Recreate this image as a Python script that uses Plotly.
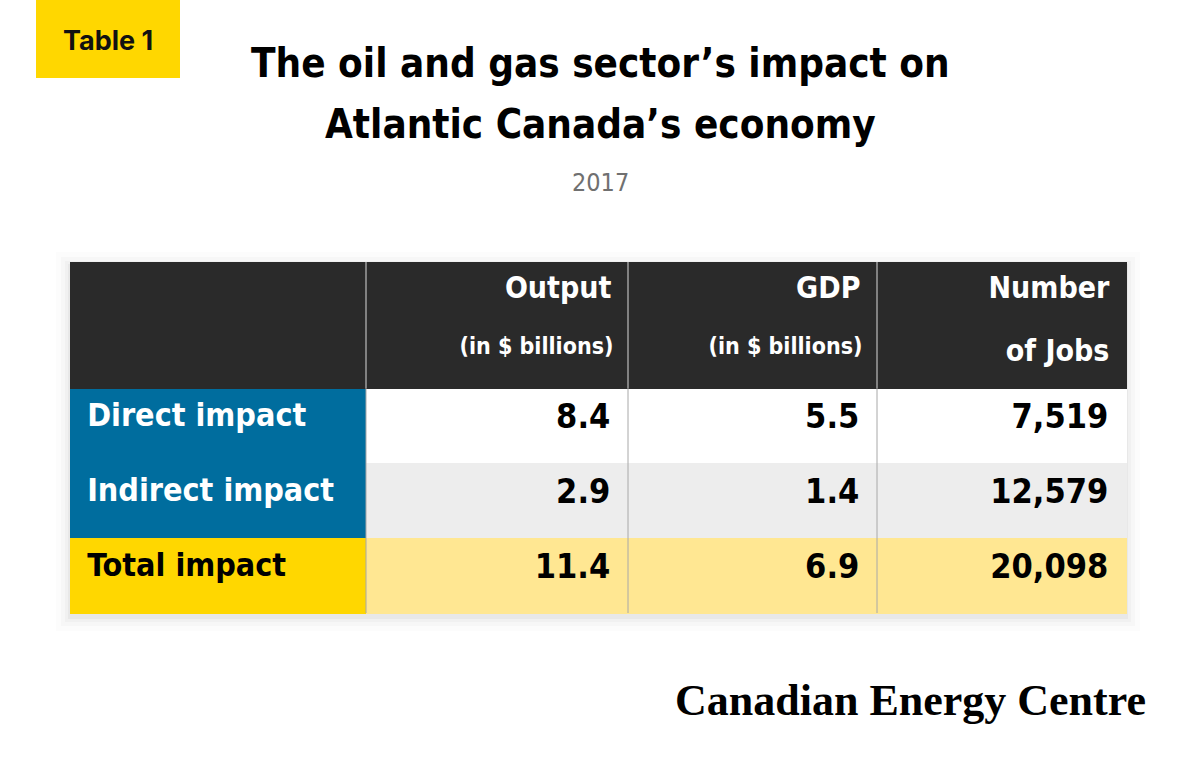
import plotly.graph_objects as go

# table content
row_labels = ["Direct impact", "Indirect impact", "Total impact"]
output_bn = [8.4, 2.9, 11.4]
gdp_bn = [5.5, 1.4, 6.9]
jobs = [7519, 12579, 20098]

col_titles = ["", "Output", "GDP", "Number"]
col_subtitles = ["", "(in $ billions)", "(in $ billions)", "of Jobs"]

COND = "DejaVu Sans Condensed, DejaVu Sans, sans-serif"
NB = "\u00a0"

DARK = "#2a2a2a"
BLUE = "#006d9e"
YELLOW = "#ffd700"
PALE_YELLOW = "#ffe792"
LIGHT_GRAY = "#ededed"

# layout of the table in pixels (page is 1200 x 775)
W, H = 1200, 775
TX0, TY0 = 70, 262
col_px = [296, 262, 249, 249]
HEAD_H, ROW_H = 63, 75


def nb(s):
    # non-breaking spaces so the table does not re-wrap the text
    return s.replace(" ", NB)


def sub_fmt(s):
    if not s:
        return ""
    if s.startswith("("):
        # the trailing <br> stops the table from splitting the span tag
        return f"<span style='font-size:23px'><b>{nb(s)}</b>{NB}</span><br>"
    return f"<b>{nb(s)}</b>{NB}"


header_vals = [[f"<b>{t}</b>{NB}" if t else "", sub_fmt(s)]
               for t, s in zip(col_titles, col_subtitles)]

label_fill = [BLUE, BLUE, YELLOW]
row_fill = ["white", LIGHT_GRAY, PALE_YELLOW]
label_font = ["white", "white", "black"]

cells_values = [
    [f"{NB}<b>{nb(r)}</b>" for r in row_labels],
    [f"<b>{v:.1f}</b>{NB}" for v in output_bn],
    [f"<b>{v:.1f}</b>{NB}" for v in gdp_bn],
    [f"<b>{v:,}</b>{NB}" for v in jobs],
]
fills = [label_fill, row_fill, row_fill, row_fill]

table_h = 2 * HEAD_H + len(row_labels) * ROW_H
fig = go.Figure(
    go.Table(
        domain=dict(x=[TX0 / W, (TX0 + sum(col_px)) / W],
                    y=[1 - (TY0 + table_h + 2) / H, 1 - TY0 / H]),
        columnwidth=col_px,
        header=dict(
            values=header_vals,
            fill_color=DARK,
            line=dict(color=DARK, width=1),
            align="right",
            font=dict(family=COND, size=30, color="white"),
            height=HEAD_H,
        ),
        cells=dict(
            values=cells_values,
            fill_color=fills,
            line=dict(color=fills, width=1),
            align=["left", "right", "right", "right"],
            font=dict(family=COND, size=[32, 34, 34, 34],
                      color=[label_font, "black", "black", "black"]),
            height=ROW_H,
        ),
    )
)

# column separators
edges = [TX0 + sum(col_px[:i]) for i in range(1, len(col_px))]
for xe in edges:
    fig.add_shape(type="line", xref="paper", yref="paper", layer="above",
                  x0=xe / W, x1=xe / W, y0=1 - TY0 / H, y1=1 - (TY0 + 2 * HEAD_H) / H,
                  line=dict(color="#d8d8d8", width=1))
    fig.add_shape(type="line", xref="paper", yref="paper", layer="above",
                  x0=xe / W, x1=xe / W, y0=1 - (TY0 + 2 * HEAD_H) / H, y1=1 - (TY0 + table_h) / H,
                  line=dict(color="#a8a8a8", width=1))

# soft shadow under the table
for d, op in [(2, 0.035), (5, 0.025), (9, 0.018), (14, 0.012)]:
    fig.add_shape(
        type="rect", xref="paper", yref="paper", layer="below",
        x0=(TX0 - d) / W, x1=(TX0 + sum(col_px) + d) / W,
        y0=1 - (TY0 + table_h + d + 4) / H, y1=1 - (TY0 - d + 4) / H,
        fillcolor=f"rgba(0,0,0,{op})", line=dict(width=0),
    )

# "Table 1" tag
fig.add_shape(
    type="rect", xref="paper", yref="paper",
    x0=36 / W, x1=180 / W, y0=1 - 78 / H, y1=1,
    fillcolor=YELLOW, line=dict(width=0),
)
fig.add_annotation(
    x=108 / W, y=1 - 41 / H, xref="paper", yref="paper", xanchor="center", yanchor="middle",
    text="<b>Table 1</b>", showarrow=False,
    font=dict(family="Inter, Roboto, sans-serif", size=27, color="#111111"),
)

title_lines = ["The oil and gas sector’s impact on", "Atlantic Canada’s economy"]
for line, yc in zip(title_lines, [63, 124]):
    fig.add_annotation(
        x=0.5, y=1 - yc / H, xref="paper", yref="paper", xanchor="center", yanchor="middle",
        text=f"<b>{line}</b>", showarrow=False,
        font=dict(family=COND, size=40, color="black"),
    )
fig.add_annotation(
    x=0.5, y=1 - 183 / H, xref="paper", yref="paper", xanchor="center", yanchor="middle",
    text="2017", showarrow=False,
    font=dict(family=COND, size=25, color="#707070"),
)
fig.add_annotation(
    x=1148 / W, y=1 - 700 / H, xref="paper", yref="paper",
    xanchor="right", yanchor="middle", text="<b>Canadian Energy Centre</b>", showarrow=False,
    font=dict(family="Liberation Serif, DejaVu Serif, serif", size=44, color="black"),
)

fig.update_layout(
    width=W, height=H,
    margin=dict(l=0, r=0, t=0, b=0),
    paper_bgcolor="white", plot_bgcolor="white",
)

fig.write_html("out.html", config={"displayModeBar": False},
               post_script="document.body.style.margin='0';")
